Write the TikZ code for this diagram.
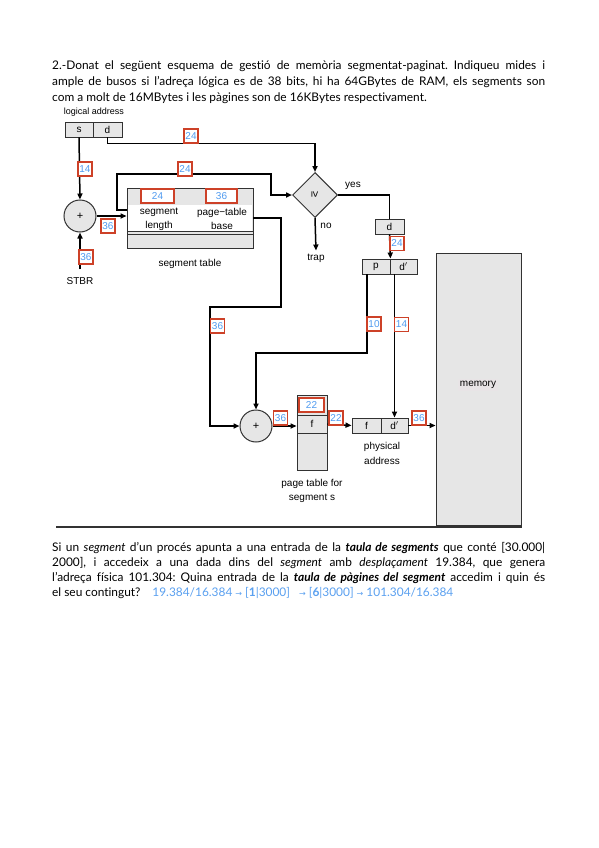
\documentclass[tikz,border=0pt]{standalone}
\usepackage{fontspec}
\setmainfont{Lato}[Ligatures=NoCommon]
\newfontfamily\diag{Liberation Sans}
\newfontfamily\symf{DejaVu Sans}
\usetikzlibrary{arrows.meta,shapes.geometric,calc}
\definecolor{boxgray}{RGB}{230,230,230}
\definecolor{lblred}{RGB}{205,65,40}
\definecolor{lblblue}{RGB}{80,155,240}
\definecolor{edgegray}{RGB}{50,50,50}
\definecolor{ansblue}{RGB}{90,160,240}
\frenchspacing
\begin{document}
\begin{tikzpicture}[x=1pt,y=-1pt,
 conn/.style={line width=1.5pt, -{Triangle[length=6pt,width=5pt]}},
 plain/.style={line width=1.5pt},
 cell/.style={draw=edgegray, line width=0.9pt, fill=boxgray, minimum height=15pt, inner sep=0pt, font=\diag\fontsize{10}{12}\selectfont},
 lbl/.style={draw=lblred, line width=1.3pt, fill=white, text=lblblue, font=\diag\fontsize{10}{10}\selectfont, inner sep=0pt, minimum width=14pt, minimum height=14pt},
 dtxt/.style={font=\diag\fontsize{10}{12}\selectfont, inner sep=0pt},
 adder/.style={circle, draw=edgegray, line width=1pt, fill=boxgray, minimum size=32pt, inner sep=0pt, font=\diag\fontsize{11}{12}\selectfont},
 para/.style={anchor=base west, text width=493pt, inner sep=0pt, align=justify, font=\fontsize{11.9}{16}\selectfont}
]
\useasboundingbox[fill=white] (0,0) rectangle (599,848);

% header text
\node[para] (head) at (52,69.5) {2.-Donat el següent esquema de gestió de memòria segmentat-paginat. Indiqueu mides i\linebreak
ample de busos si l’adreça lógica es de 38 bits, hi ha 64GBytes de RAM, els segments son\linebreak
com a molt de 16MBytes i les pàgines son de 16KBytes respectivament.};

% logical address
\node[dtxt, font=\diag\fontsize{9}{10}\selectfont] (logaddr) at (94,112) {logical address};
\node[cell, minimum width=28pt] (sbox) at (79,129.5) {s};
\node[cell, minimum width=29pt] (dbox) at (107.5,129.5) {d};

% adder 1 and STBR
\node[adder] (plus1) at (80,216) {+};
\node[dtxt] (stbr) at (80,281) {STBR};

% segment table
\node[cell, minimum width=126pt, minimum height=60pt] (seg) at (190,218) {};
\fill[white] (127.6,205) rectangle (252.4,231);
\draw[edgegray, line width=0.9pt] (127,231) -- (253,231);
\draw[edgegray, line width=0.9pt] (127,234) -- (253,234);
\node[dtxt] (seglen1) at (159,212.5) {segment};
\node[dtxt] (seglen2) at (159,225.5) {length};
\node[dtxt] (ptb1) at (222,212.5) {page−table};
\node[dtxt] (ptb2) at (222,225.5) {base};
\node[dtxt] (segtab) at (190,264) {segment table};

% comparator
\node[diamond, draw=edgegray, line width=1pt, fill=boxgray, minimum width=45pt, minimum height=45pt, inner sep=0pt] (dia) at (315,195) {};
\node[dtxt, rotate=-90, font=\diag\fontsize{11}{12}\selectfont] (ge) at (315,195) {≥};
\node[dtxt] (yes) at (353,186) {yes};
\node[dtxt] (no) at (326,226) {no};
\node[dtxt] (trap) at (316,258) {trap};
\node[cell, minimum width=29pt] (dsmall) at (389.5,226.5) {d};
\node[cell, minimum width=28pt] (p) at (376,266.5) {p};
\node[cell, minimum width=27pt] (dp) at (403.5,266.5) {d$'$};

% adder 2, page table, physical address
\node[adder] (plus2) at (256,426) {+};
\node[cell, minimum width=30pt, minimum height=75pt] (pt) at (312,432.5) {};
\node[cell, minimum width=30pt, minimum height=18pt] (frow) at (312,424) {f};
\node[dtxt] (pt1) at (312,484) {page table for};
\node[dtxt] (pt2) at (312,498) {segment s};
\node[cell, minimum width=29pt] (f) at (366.5,425.5) {f};
\node[cell, minimum width=27pt] (dp2) at (394.5,425.5) {d$'$};
\node[dtxt] (phys1) at (382,447) {physical};
\node[dtxt] (phys2) at (382,461) {address};

% memory
\node[cell, minimum width=85pt, minimum height=272pt] (mem) at (478.5,389) {};
\node[dtxt, fill={rgb,255:red,232;green,228;blue,230}, inner sep=2pt] (memtxt) at (478,385) {memory};

% rule
\draw[line width=1.2pt, edgegray] (56,527) -- (522,527);

% connectors
\draw[conn] (sbox.south) -- (plus1.north);
\draw[conn] (dbox.south) -- ++(0,6) -| (dia.north);
\draw[conn] (plus1.east) -- (seg.west |- plus1.east);
\draw[conn] ($(stbr.north)+(0,-8)$) -- (plus1.south);
\draw[conn] ($(seg.west)+(0,-8)$) -| (117,174) -| (271,195) -- (dia.west);
\draw[conn] (seg.east) -| (281,307) -| (210,426) -- (plus2.west);
\draw[plain] (dia.east) -| (dsmall.north);
\draw[conn] (dia.south) -- ($(trap.north)+(0,-3)$);
\draw[conn] (dsmall.south) -- (p.north east);
\draw[conn] ($(p.south)+(-9,0)$) -- (367,353) -| (plus2.north);
\draw[conn] (dp2.north |- dp.south) -- (dp2.north);
\draw[conn] (plus2.east) -- (pt.west |- plus2.east);
\draw[conn] (frow.east) -- (f.west);
\draw[conn] (dp2.east) -- (mem.west |- dp2.east);

% bit-width labels
\node[lbl] (l1) at (191,136) {24};
\node[lbl] (l2) at (85,169) {14};
\node[lbl] (l3) at (185,169) {24};
\node[lbl] (l4) at (108,226) {36};
\node[lbl] (l5) at (86,257) {36};
\node[lbl, minimum width=33pt] (l6) at (157.5,196) {24};
\node[lbl, minimum width=31pt] (l7) at (221.5,196) {36};
\node[lbl] (l8) at (397,243.5) {24};
\node[lbl] (l9) at (217.5,326) {36};
\node[lbl] (l10) at (374,324) {10};
\node[lbl] (l11) at (401.5,324.5) {14};
\node[lbl] (l12) at (280.5,418) {36};
\node[lbl, minimum width=25pt] (l13) at (311.5,405) {22};
\node[lbl] (l14) at (336,418) {22};
\node[lbl] (l15) at (419,418) {36};

% bottom text
\node[para, font=\fontsize{11.9}{15}\selectfont] (bottom) at (52,551) {Si un \textit{segment} d’un procés apunta a una entrada de la \textbf{\textit{taula de segments}} que conté [30.000|\linebreak
2000], i accedeix a una dada dins del \textit{segment} amb \textit{desplaçament} 19.384, que genera\linebreak
l’adreça física 101.304: Quina entrada de la \textbf{\textit{taula de pàgines del segment}} accedim i quin és\linebreak
el seu contingut?\quad{\color{ansblue}19.384/16.384 {\symf\footnotesize →} [\textbf{1}|3000]\ \ \ {\symf\footnotesize →} [\textbf{6}|3000] {\symf\footnotesize →} 101.304/16.384}};
\end{tikzpicture}
\end{document}
